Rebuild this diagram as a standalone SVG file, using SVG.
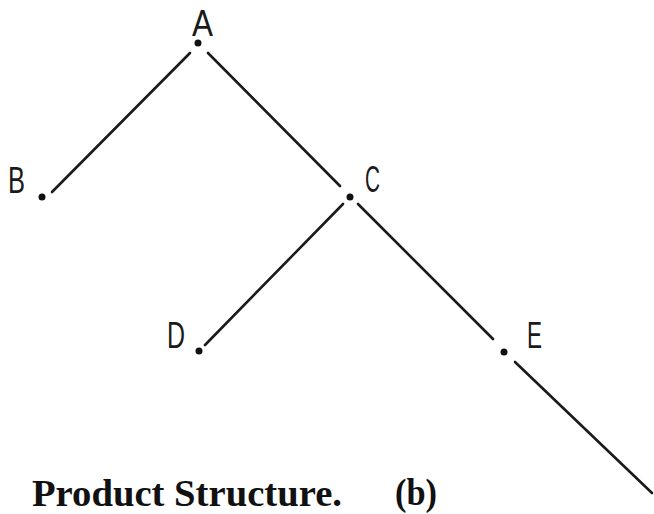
<svg xmlns="http://www.w3.org/2000/svg" width="654" height="514" viewBox="0 0 654 514">
<style>
.edge{stroke:#1a1a1a;stroke-width:2.6;stroke-linecap:round;fill:none}
.dot{fill:#111}
.lbl{font-family:"Liberation Sans","DejaVu Sans",sans-serif;font-size:36px;fill:#1a1a1a}
.cap{font-family:"Liberation Serif","Times New Roman",serif;font-size:37px;font-weight:bold;fill:#111}
</style>
<rect width="654" height="514" fill="#fff"/>
<g id="connectors">
<line class="edge" x1="190" y1="53" x2="52" y2="192"/>
<line class="edge" x1="208" y1="53" x2="340" y2="186"/>
<line class="edge" x1="343" y1="204" x2="205" y2="345"/>
<line class="edge" x1="358" y1="204" x2="493" y2="339"/>
<line class="edge" x1="515" y1="362" x2="652" y2="493"/>
</g>
<g id="node-A"><circle class="dot" cx="198" cy="43" r="3.5"/><text class="lbl" x="192" y="36" textLength="21" lengthAdjust="spacingAndGlyphs">A</text></g>
<g id="node-B"><circle class="dot" cx="42" cy="197" r="3.5"/><text class="lbl" x="8" y="193" textLength="17" lengthAdjust="spacingAndGlyphs">B</text></g>
<g id="node-C"><circle class="dot" cx="350" cy="197" r="3.5"/><text class="lbl" x="365" y="192" textLength="15" lengthAdjust="spacingAndGlyphs">C</text></g>
<g id="node-D"><circle class="dot" cx="199" cy="351" r="3.5"/><text class="lbl" x="167" y="348" textLength="18" lengthAdjust="spacingAndGlyphs">D</text></g>
<g id="node-E"><circle class="dot" cx="504" cy="352" r="3.5"/><text class="lbl" x="527" y="348" textLength="15" lengthAdjust="spacingAndGlyphs">E</text></g>
<g id="caption">
<text class="cap" x="32" y="506" textLength="310" lengthAdjust="spacingAndGlyphs">Product Structure.</text>
<text class="cap" x="395" y="505" textLength="42" lengthAdjust="spacingAndGlyphs">(b)</text>
</g>
</svg>
